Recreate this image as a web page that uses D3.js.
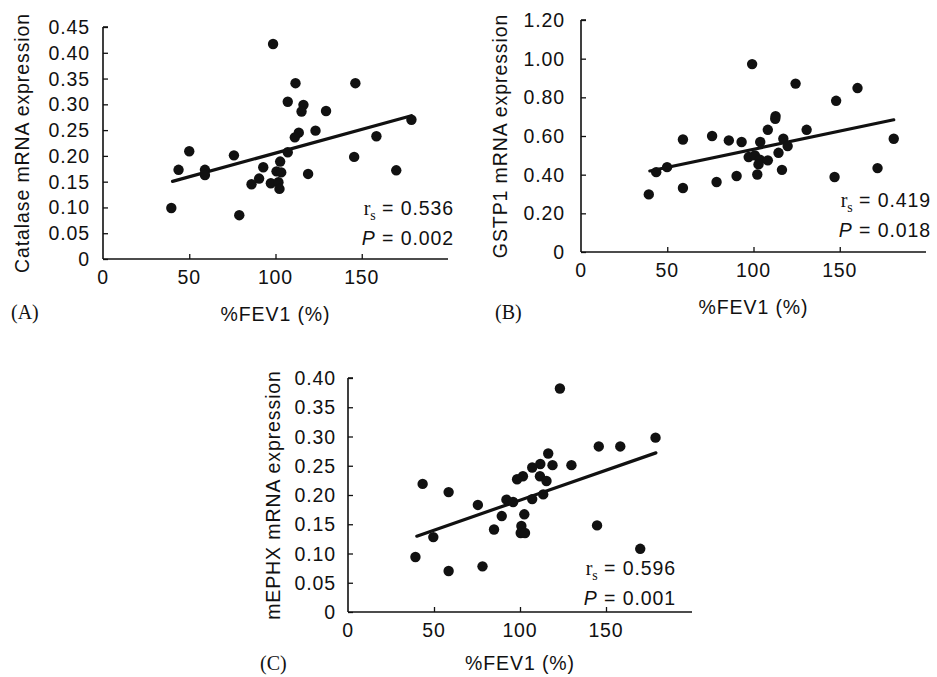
<!DOCTYPE html>
<html>
<head>
<meta charset="utf-8">
<script src="https://cdn.jsdelivr.net/npm/d3@7"></script>
<style>
body{margin:0;background:#fff}
svg{display:block}
text{font-family:"Liberation Sans",Arial,sans-serif;fill:#111;letter-spacing:0.9px}
.serif{font-family:"Liberation Serif","Times New Roman",serif;letter-spacing:0}
</style>
</head>
<body>
<div id="fig"></div>
<script>
// values
var fevA = [98.6,111.6,146.3,107.1,116.2,115.1,129.3,178.8,123.2,113.5,111.2,158.5,50,75.9,107.1,145.6,43.8,59.1,59.1,92.9,102.7,100.6,103.3,118.9,90.5,86.1,97.3,101.7,102.3,170,39.6,79];
var catalase = [0.417,0.341,0.341,0.305,0.299,0.286,0.287,0.270,0.249,0.245,0.236,0.238,0.209,0.201,0.207,0.198,0.173,0.173,0.163,0.178,0.189,0.170,0.168,0.165,0.156,0.145,0.147,0.149,0.136,0.172,0.099,0.085];
var fitA = [[40.3,0.1505],[178.8,0.278]];

var fevB = [99.2,124.4,160.3,147.9,112.8,112.6,108.3,130.8,181.3,59.1,76,85.7,93.1,103.9,117.3,119.8,114.5,97.2,100.8,103.7,108.3,102.9,116.5,49.9,43.6,102.2,90.2,171.9,147,78.6,59.1,39.3];
var gstp1 = [0.972,0.871,0.848,0.782,0.703,0.689,0.632,0.632,0.586,0.582,0.600,0.577,0.569,0.569,0.586,0.548,0.513,0.491,0.500,0.477,0.474,0.453,0.425,0.439,0.413,0.401,0.393,0.434,0.388,0.362,0.331,0.298];
var fitB = [[39.9,0.419],[181.3,0.684]];

var fevC = [123.2,178.8,145.8,158.3,116.4,111.8,118.9,129.9,107.1,101.7,98.3,111.6,115.4,43.4,58.5,113.5,107.1,92.1,96,75.5,89.4,102.5,84.9,100.8,100.4,102.9,144.8,49.6,39.2,169.9,58.5,78.2];
var mephx = [0.382,0.298,0.283,0.283,0.271,0.253,0.251,0.251,0.247,0.232,0.227,0.232,0.224,0.219,0.205,0.201,0.193,0.192,0.188,0.183,0.164,0.167,0.141,0.147,0.135,0.135,0.148,0.128,0.094,0.108,0.070,0.078];
var fitC = [[40,0.1296],[179,0.272]];

var xTicks = [0,50,100,150];
var yTicksA = [0,0.05,0.10,0.15,0.20,0.25,0.30,0.35,0.40,0.45];
var yTicksB = [0,0.20,0.40,0.60,0.80,1.00,1.20];
var yTicksC = [0,0.05,0.10,0.15,0.20,0.25,0.30,0.35,0.40];

var svg = d3.select("#fig").append("svg").attr("width",937).attr("height",677);

function panel(o){
	var X = d3.scaleLinear().domain([0,200]).range([o.x0,o.x1]);
	var Y = d3.scaleLinear().domain([0,o.ymax]).range([o.y0,o.y1]);
	var g = svg.append("g");

	var yax = g.append("g").attr("transform","translate("+o.x0+",0)")
		.call(d3.axisRight(Y).tickValues(o.yTicks).tickSize(5).tickFormat(""));
	var xax = g.append("g").attr("transform","translate(0,"+o.y0+")")
		.call(d3.axisTop(X).tickValues(xTicks.slice(1)).tickSize(5).tickFormat(""));
	g.selectAll(".domain").attr("stroke","#111").attr("stroke-width",1.6);
	g.selectAll(".tick line").attr("stroke","#111").attr("stroke-width",1.3);
	yax.select(".domain").attr("d","M0,"+Y(o.ymax)+"H5M0,"+Y(o.ymax)+"V"+Y(0));
	xax.select(".domain").attr("d","M"+X(0)+",0H"+X(200));

	g.selectAll(".ylab").data(o.yTicks).enter().append("text")
		.attr("x",o.x0-o.lab).attr("y",d=>Y(d)+7)
		.attr("text-anchor","end").style("font-size","19.5px")
		.text(d=>d===0?"0":d3.format(o.fmt)(d));
	g.selectAll(".xlab").data(xTicks).enter().append("text")
		.attr("x",d=>X(d)).attr("y",o.y0+25)
		.attr("text-anchor","middle").style("font-size","19.5px")
		.text(d=>d);

	g.append("text").attr("x",(o.x0+o.x1)/2).attr("y",o.y0+o.fy)
		.attr("text-anchor","middle").style("font-size","19.5px").text("%FEV1 (%)");
	g.append("text")
		.attr("transform","translate("+o.tx+","+((o.y0+o.y1)/2)+") rotate(-90)")
		.attr("text-anchor","middle").style("font-size","19.5px").text(o.title);
	g.append("text").attr("class","serif").attr("x",o.px).attr("y",o.py)
		.style("font-size","20px").text(o.tag);

	g.append("path").datum(o.fit)
		.attr("d",d3.line().x(d=>X(d[0])).y(d=>Y(d[1])))
		.attr("fill","none").attr("stroke","#111").attr("stroke-width",3.2)
		.attr("stroke-linecap","round");

	g.selectAll(".dot").data(o.xs).enter().append("circle")
		.attr("cx",d=>X(d)).attr("cy",(d,i)=>Y(o.ys[i])).attr("r",5.2)
		.attr("fill","#111");

	var t1 = g.append("text").attr("x",X(200)+o.sx).attr("y",o.sy)
		.attr("text-anchor","end").style("font-size","19.5px");
	t1.append("tspan").attr("class","serif").style("font-size","20px").text("r");
	t1.append("tspan").attr("class","serif").attr("dy",5).style("font-size","14px").text("s");
	t1.append("tspan").attr("dy",-5).text(" = "+o.r);
	var t2 = g.append("text").attr("x",X(200)+o.sx).attr("y",o.sy+o.gap)
		.attr("text-anchor","end").style("font-size","19.5px");
	t2.append("tspan").style("font-style","italic").text("P");
	t2.append("tspan").text(" = "+o.p);
}

panel({x0:103,x1:448,y0:259,y1:27,ymax:0.45,yTicks:yTicksA,fmt:".2f",lab:13,
	xs:fevA,ys:catalase,fit:fitA,title:"Catalase mRNA expression",tx:29,fy:62,
	tag:"(A)",px:11,py:319,r:"0.536",p:"0.002",sx:6,sy:215,gap:30});
panel({x0:581,x1:926,y0:252,y1:20,ymax:1.20,yTicks:yTicksB,fmt:".2f",lab:16,
	xs:fevB,ys:gstp1,fit:fitB,title:"GSTP1 mRNA expression",tx:507,fy:62,
	tag:"(B)",px:495,py:319,r:"0.419",p:"0.018",sx:5,sy:207,gap:30});
panel({x0:348,x1:692,y0:612,y1:378,ymax:0.40,yTicks:yTicksC,fmt:".2f",lab:12,
	xs:fevC,ys:mephx,fit:fitC,title:"mEPHX mRNA expression",tx:280,fy:58,
	tag:"(C)",px:260,py:670,r:"0.596",p:"0.001",sx:-16,sy:575,gap:30});
</script>
</body>
</html>
